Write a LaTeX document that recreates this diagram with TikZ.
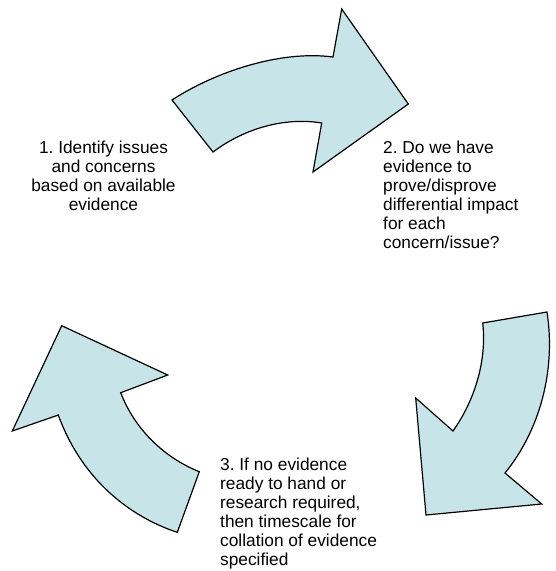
\documentclass[tikz,border=0pt]{standalone}
\usepackage{fontspec}
\setmainfont{Liberation Sans}
\frenchspacing
\definecolor{arrowblue}{RGB}{199,229,232}
\tikzset{
  bentarrow/.style={draw=black, line width=1.2pt, line join=miter, fill=arrowblue},
  steptext/.style={inner sep=0pt, font=\fontsize{17.3}{19}\selectfont}
}

\begin{document}
\begin{tikzpicture}[x=1pt, y=-1pt]
			%%%%% START %%%%%
			\useasboundingbox (0, 0) rectangle (555, 571);
			
			% top arrow
			\draw[bentarrow] (172, 100) .. controls (215, 72) and (280, 50) .. (333, 57)
				-- (341.7, 9) -- (408.3, 104) -- (313, 172) -- (321.7, 123)
				.. controls (285, 117) and (245, 128) .. (213, 152) -- cycle;
			
			% right arrow
			\draw[bentarrow] (547, 312) .. controls (556, 370) and (540, 430) .. (505, 473)
				-- (541.7, 504) -- (426, 515) -- (415.7, 398) -- (453, 431)
				.. controls (475, 400) and (487, 360) .. (482.7, 323) -- cycle;
			
			% left arrow
			\draw[bentarrow] (177.3, 532.3) .. controls (125, 515) and (80, 475) .. (58.3, 415)
				-- (12.3, 431) -- (61.7, 325.7) -- (167.7, 375) -- (120.7, 392.7)
				.. controls (135, 430) and (165, 458) .. (199.3, 471.7) -- cycle;
			
			\node[steptext, anchor=north, align=center] (identify) at (103.5, 141)
				{1. Identify issues\\and concerns\\based on available\\evidence};
			\node[steptext, anchor=north west, align=left] (evidence) at (383, 141)
				{2. Do we have\\evidence to\\prove/disprove\\differential impact\\for each\\concern/issue?};
			\node[steptext, anchor=north west, align=left] (timescale) at (220, 458)
				{3. If no evidence\\ready to hand or\\research required,\\then timescale for\\collation of evidence\\specified};
			%%%%% END %%%%%
\end{tikzpicture}
\end{document}
